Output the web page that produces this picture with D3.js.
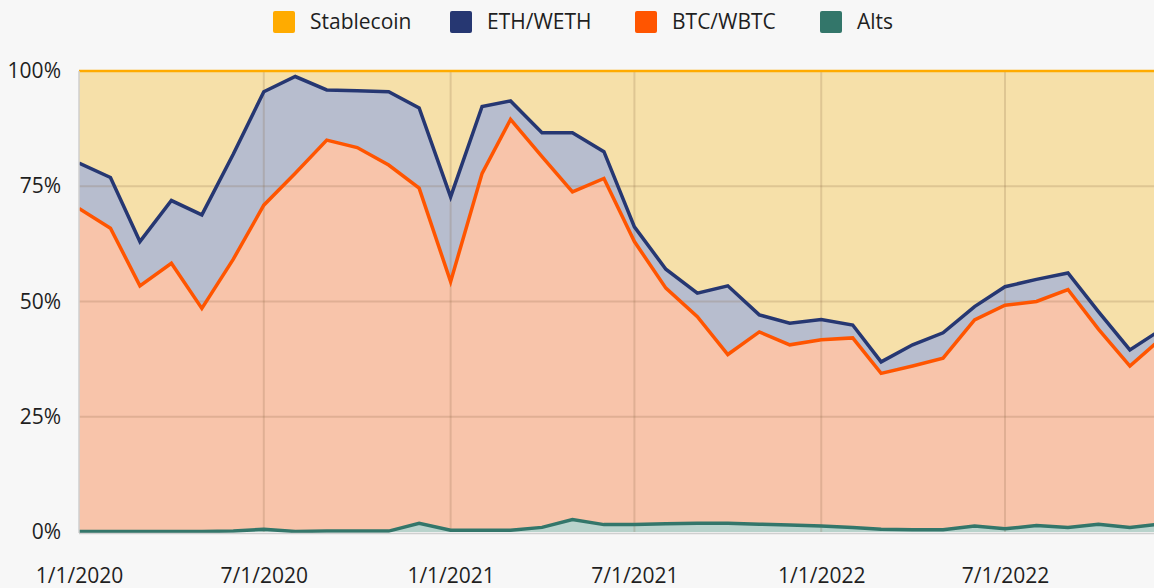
<!DOCTYPE html>
<html>
<head>
<meta charset="utf-8">
<script src="https://cdn.jsdelivr.net/npm/d3@7"></script>
<style>
  html, body { margin: 0; padding: 0; background: #f7f7f7; }
  svg { display: block; }
  text { font-family: "Open Sans", "Noto Sans", sans-serif; fill: #1f1f1f; }
</style>
</head>
<body>
<svg id="chart" width="1154" height="588"></svg>
<script>
// Monthly share of collateral by asset type (percent of total)
const months = [
  "2020-01-01","2020-02-01","2020-03-01","2020-04-01","2020-05-01","2020-06-01",
  "2020-07-01","2020-08-01","2020-09-01","2020-10-01","2020-11-01","2020-12-01",
  "2021-01-01","2021-02-01","2021-03-01","2021-04-01","2021-05-01","2021-06-01",
  "2021-07-01","2021-08-01","2021-09-01","2021-10-01","2021-11-01","2021-12-01",
  "2022-01-01","2022-02-01","2022-03-01","2022-04-01","2022-05-01","2022-06-01",
  "2022-07-01","2022-08-01","2022-09-01","2022-10-01","2022-11-01","2022-12-01"
];
const alts = [
  0.1, 0.1, 0.1, 0.1, 0.1, 0.2, 0.6, 0.1, 0.2, 0.2, 0.2, 1.9,
  0.4, 0.4, 0.4, 1.0, 2.7, 1.6, 1.6, 1.8, 1.9, 1.9, 1.7, 1.5,
  1.3, 1.0, 0.6, 0.5, 0.5, 1.3, 0.7, 1.4, 1.0, 1.7, 1.0, 1.7
];
const btc = [
  70.1, 65.8, 53.3, 58.2, 48.4, 59.0, 70.3, 77.7, 84.8, 83.2, 79.4, 72.7,
  53.9, 77.4, 89.1, 80.4, 71.1, 75.1, 61.4, 51.1, 44.8, 36.6, 41.7, 39.1,
  40.4, 41.1, 33.8, 35.5, 37.2, 44.7, 48.5, 48.6, 51.6, 42.3, 35.0, 40.1
];
const eth = [
  9.8, 11.0, 9.6, 13.6, 20.3, 22.8, 24.6, 21.0, 10.9, 12.3, 15.9, 17.4,
  18.4, 14.5, 4.0, 5.2, 12.8, 5.8, 3.2, 4.1, 5.1, 14.9, 3.7, 4.7,
  4.4, 2.8, 2.5, 4.6, 5.5, 2.9, 4.0, 4.8, 3.6, 3.8, 3.5, 2.0
];
const stablecoin = [
  20.0, 23.1, 37.0, 28.1, 31.2, 18.0, 4.5, 1.2, 4.1, 4.3, 4.5, 8.0,
  27.3, 7.7, 6.5, 13.4, 13.4, 17.5, 33.8, 43.0, 48.2, 46.6, 52.9, 54.7,
  53.9, 55.1, 63.1, 59.4, 56.8, 51.1, 46.8, 45.2, 43.8, 52.2, 60.5, 56.2
];
const xTickDates = ["2020-01-01","2020-07-01","2021-01-01","2021-07-01","2022-01-01","2022-07-01"];
const yTicks = [0, 25, 50, 75, 100];

// Series, bottom to top in the stack
const series = [
  { key: "alts", name: "Alts", values: alts, line: "#33766a", fill: "#b9d3cc" },
  { key: "btc", name: "BTC/WBTC", values: btc, line: "#ff5500", fill: "#f8c4aa" },
  { key: "eth", name: "ETH/WETH", values: eth, line: "#263772", fill: "#b7bdce" },
  { key: "stablecoin", name: "Stablecoin", values: stablecoin, line: "#ffab00", fill: "#f6e0a9" }
];
const legendOrder = ["stablecoin", "eth", "btc", "alts"];

const parse = d3.timeParse("%Y-%m-%d");
const rows = months.map((m, i) => {
  const r = { date: parse(m) };
  series.forEach(s => { r[s.key] = s.values[i]; });
  return r;
});

const svg = d3.select("#chart");
const W = 1154, H = 588;
const mLeft = 79, mTop = 71, mBottom = 532;
const FONT = 21;

// Six months span 926px across 912 days; extend to the last month
const d0 = parse("2020-01-01"), dEnd = parse(months[months.length - 1]);
const pxPerDay = (1005 - 79) / ((parse("2022-07-01") - d0) / 864e5);
const x = d3.scaleTime()
  .domain([d0, dEnd])
  .range([mLeft, mLeft + pxPerDay * (dEnd - d0) / 864e5]);
const y = d3.scaleLinear().domain([0, 100]).range([mBottom, mTop]);

const stack = d3.stack().keys(series.map(s => s.key));
const layers = stack(rows);

svg.append("defs").append("clipPath").attr("id", "plotClip")
  .append("rect").attr("x", mLeft).attr("y", mTop - 4).attr("width", W - mLeft).attr("height", mBottom - mTop + 8);

const plot = svg.append("g").attr("clip-path", "url(#plotClip)");

const area = d3.area()
  .x(d => x(d.data.date))
  .y0(d => y(d[0]))
  .y1(d => y(d[1]));

plot.selectAll("path.area").data(layers).join("path")
  .attr("class", "area")
  .attr("d", area)
  .attr("fill", (d, i) => series[i].fill);

// Gridlines
const grid = plot.append("g");
grid.selectAll("line.v").data(xTickDates.slice(1)).join("line")
  .attr("x1", d => x(parse(d))).attr("x2", d => x(parse(d)))
  .attr("y1", mTop).attr("y2", mBottom)
  .attr("stroke", "rgba(130,95,60,0.2)").attr("stroke-width", 2);
grid.selectAll("line.h").data([25, 50, 75]).join("line")
  .attr("x1", mLeft).attr("x2", W)
  .attr("y1", d => y(d)).attr("y2", d => y(d))
  .attr("stroke", "rgba(130,95,60,0.2)").attr("stroke-width", 2);

// Left edge and baseline
svg.append("line").attr("x1", mLeft).attr("x2", mLeft).attr("y1", mTop).attr("y2", mBottom + 1)
  .attr("stroke", "#cfcfcf").attr("stroke-width", 1.5);
svg.append("line").attr("x1", mLeft).attr("x2", W).attr("y1", mBottom + 1.5).attr("y2", mBottom + 1.5)
  .attr("stroke", "#cfcfcf").attr("stroke-width", 1.5);

// Top edge line of each layer
const line = d3.line()
  .x(d => x(d.data.date))
  .y(d => y(d[1]));
plot.selectAll("path.line").data(layers).join("path")
  .attr("class", "line")
  .attr("d", line)
  .attr("fill", "none")
  .attr("stroke", (d, i) => series[i].line)
  .attr("stroke-width", (d, i) => series[i].key === "stablecoin" ? 2.5 : 3.5)
  .attr("stroke-linejoin", "miter");

// Y axis labels
const yAxis = d3.axisLeft(y).tickValues(yTicks).tickFormat(d => d + "%").tickSize(0).tickPadding(18);
const yg = svg.append("g").attr("transform", `translate(${mLeft},0)`).call(yAxis);
yg.select(".domain").remove();
yg.selectAll("text").attr("font-size", FONT).attr("fill", "#1f1f1f").attr("dy", "0.32em")
  .attr("font-family", "\"Open Sans\", \"Noto Sans\", sans-serif");

// X axis labels
const fmt = d3.timeFormat("%-m/%-d/%Y");
const xAxis = d3.axisBottom(x).tickValues(xTickDates.map(parse)).tickFormat(fmt).tickSize(0).tickPadding(36);
const xg = svg.append("g").attr("transform", `translate(0,${mBottom})`).call(xAxis);
xg.select(".domain").remove();
xg.selectAll("text").attr("font-size", FONT).attr("fill", "#1f1f1f")
  .attr("font-family", "\"Open Sans\", \"Noto Sans\", sans-serif");

// Legend
const legendX = { stablecoin: 273, eth: 450, btc: 635, alts: 820 };
const lg = svg.append("g");
legendOrder.forEach(k => {
  const s = series.find(t => t.key === k);
  const g = lg.append("g").attr("transform", `translate(${legendX[k]},11)`);
  g.append("rect").attr("width", 22).attr("height", 22).attr("rx", 2).attr("fill", s.line);
  g.append("text").attr("x", 37).attr("y", 11).attr("dy", "0.35em")
    .attr("font-size", FONT).text(s.name);
});
</script>
</body>
</html>
